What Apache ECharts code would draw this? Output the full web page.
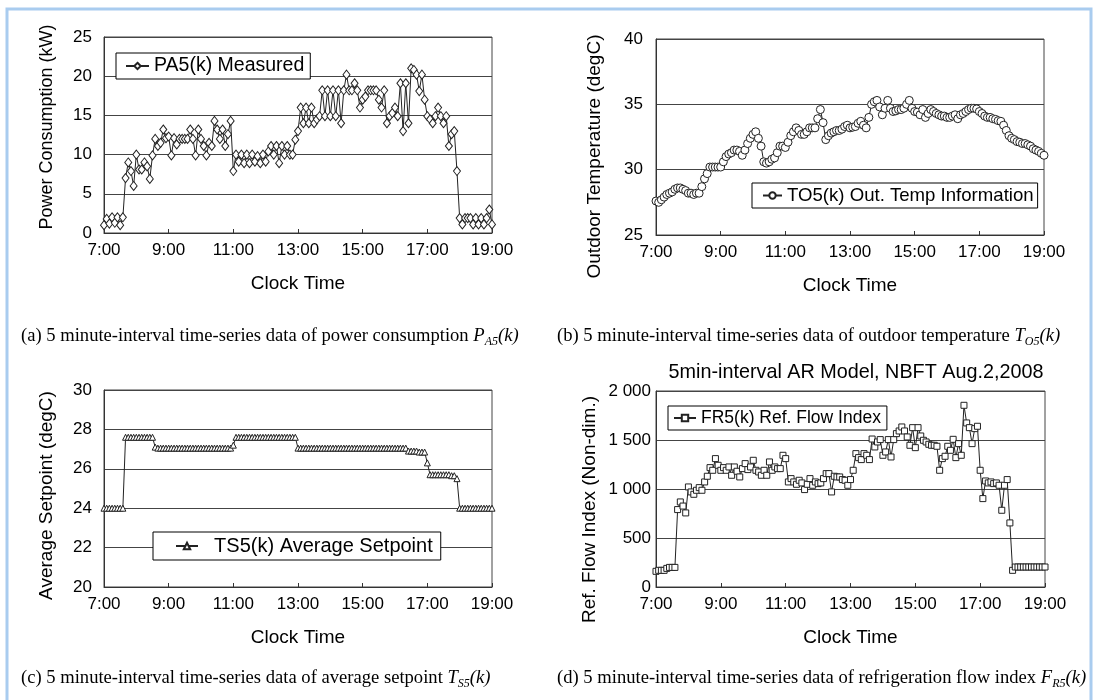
<!DOCTYPE html>
<html><head><meta charset="utf-8">
<script src="https://cdn.jsdelivr.net/npm/echarts@6/dist/echarts.min.js"></script>
<style>html,body{margin:0;padding:0;background:#fff}#c{width:1095px;height:700px}</style>
</head><body><div id="c"></div><script>
// 5-minute clock times 7:00 ... 19:00
const clockTimes = [];
for (let h = 7; h <= 19; h++) { for (let m = 0; m < 60; m += 5) { if (h === 19 && m > 0) break; clockTimes.push(h + ':' + String(m).padStart(2, '0')); } }
const xTickLabels = ['7:00','9:00','11:00','13:00','15:00','17:00','19:00'];

const powerA5 = [1.0,1.8,1.2,2.0,1.3,2.0,1.0,2.0,
 7.0,9.0,7.9,6.0,10.0,8.1,8.1,9.0,8.5,6.9,9.9,
 12.0,11.1,11.5,13.2,12.1,12.3,9.9,12.1,11.3,12.0,
 12.0,12.0,12.0,13.2,12.0,9.9,13.2,12.0,11.1,9.9,
 11.5,11.1,14.3,13.2,12.0,13.2,11.1,12.6,14.3,
 7.9,
 10.0,9.1,10.0,8.9,10.0,8.9,10.0,9.1,9.8,8.9,
 10.0,9.1,10.4,11.1,10.0,11.1,8.9,11.1,10.0,11.1,
 10.0,10.0,11.9,13.0,
 16.0,14.0,16.0,14.0,16.0,14.0,14.5,14.9,18.2,14.9,
 18.2,14.9,18.2,14.9,18.2,14.0,18.2,20.2,18.2,18.2,
 19.1,18.2,16.0,17.0,17.4,18.2,18.2,18.2,18.2,17.0,
 16.0,18.2,14.0,14.9,15.3,16.0,14.9,19.1,13.0,19.1,
 14.0,21.0,20.8,20.2,18.1,20.2,17.0,14.9,14.5,14.0,
 14.9,16.0,14.9,14.0,14.9,11.1,12.6,13.0,7.9,1.9,
 1.1,1.9,1.9,1.9,1.1,1.9,1.1,1.9,1.1,1.9,3.0,1.1];

const outdoorTO5 = [27.6,27.5,27.7,27.9,28.1,28.2,28.3,28.5,28.6,28.6,
 28.5,28.4,28.2,28.2,28.1,28.2,28.2,28.7,29.3,29.7,
 30.2,30.2,30.2,30.2,30.2,30.6,31.0,31.2,31.3,31.5,
 31.5,31.4,31.1,31.5,32.0,32.4,32.7,32.9,32.4,31.8,
 30.6,30.5,30.6,30.8,30.9,31.3,31.8,31.8,31.7,32.1,
 32.6,32.9,33.2,33.0,32.7,32.7,32.9,33.2,33.2,33.2,
 33.9,34.6,33.6,32.3,32.6,32.8,32.9,33.0,33.0,33.1,
 33.3,33.4,
 33.2,33.25,33.3,33.55,33.7,33.4,33.2,34.0,
 35.0,35.2,35.3,34.8,34.2,34.7,35.3,34.7,34.45,34.5,
 34.6,34.6,34.7,35.0,35.3,34.7,34.45,34.4,34.2,34.6,
 34.0,34.3,34.6,34.45,34.3,34.2,34.1,34.1,34.0,34.0,
 34.1,34.2,33.9,34.2,34.3,34.45,34.6,34.7,34.7,34.65,
 34.45,34.3,34.1,34.0,34.0,33.9,33.85,33.75,33.7,33.4,
 33.0,32.6,32.4,32.3,32.15,32.1,32.0,32.0,31.9,31.8,
 31.6,31.5,31.4,31.25,31.1];

const setpointTS5 = [24.0,24.0,24.0,24.0,24.0,24.0,24.0,24.0,
 27.6,27.6,27.6,27.6,27.6,27.6,27.6,27.6,27.6,27.6,27.6,
 27.1,
 27.05,27.05,27.05,27.05,27.05,27.05,27.05,27.05,27.05,27.05,
 27.05,27.05,27.05,27.05,27.05,27.05,27.05,27.05,27.05,27.05,
 27.05,27.05,27.05,27.05,27.05,27.05,27.05,27.05,
 27.2,
 27.6,27.6,27.6,27.6,27.6,27.6,27.6,27.6,27.6,27.6,
 27.6,27.6,27.6,27.6,27.6,27.6,27.6,27.6,27.6,27.6,
 27.6,27.6,27.6,
 27.05,27.05,27.05,27.05,27.05,27.05,27.05,27.05,27.05,27.05,
 27.05,27.05,27.05,27.05,27.05,27.05,27.05,27.05,27.05,27.05,
 27.05,27.05,27.05,27.05,27.05,27.05,27.05,27.05,27.05,27.05,
 27.05,27.05,27.05,27.05,27.05,27.05,27.05,27.05,27.05,27.05,
 27.05,
 26.9,26.9,26.9,26.9,26.85,26.85,26.85,
 26.3,
 25.7,25.7,25.7,25.7,25.7,25.7,25.7,25.7,25.65,25.65,
 25.5,
 24.0,24.0,24.0,24.0,24.0,24.0,24.0,24.0,24.0,24.0,24.0,24.0,24.0];

const flowFR5 = [160,170,170,170,190,200,200,200,
 790,868,826,756,1021,970,946,987,1014,987,
 1072,1130,1218,1191,1310,1242,1191,1218,1191,1225,
 1140,1225,1181,1123,1208,1259,1198,1225,1293,1191,
 1174,1140,1191,1140,1276,1191,1225,1208,1208,1344,
 1310,1072,1106,1072,1048,1089,1062,994,1048,1106,
 1038,1072,1055,1062,1106,1157,1157,970,1130,1123,
 1123,1096,1089,1038,1096,1191,
 1361,1320,1300,1361,1344,1300,1510,1429,1480,1504,
 1344,1378,1504,1327,1504,1565,1592,1633,1592,1531,
 1446,1626,1422,1626,1541,1497,1480,1456,1446,1446,
 1436,1191,1310,1334,1436,1395,1507,1320,1463,1344,
 1854,1674,1626,1463,1616,1640,1191,902,1082,1062,
 1072,1055,1062,1038,783,1038,1096,654,170,204,
 204,204,204,204,204,204,204,204,204,204,204];

const flowTickValues = [0, 500, 1000, 1500, 2000];
const flowTickLabels = ['0', '500', '1 000', '1 500', '2 000'];

const SANS = '"Liberation Sans", Arial, sans-serif';
const SERIF = '"Liberation Serif", "Times New Roman", serif';
const INK = '#222';

function xAxis(gi) {
  return {
    type: 'category', gridIndex: gi, data: clockTimes, boundaryGap: false,
    name: 'Clock Time', nameLocation: 'middle', nameGap: 41,
    nameTextStyle: { fontFamily: SANS, fontSize: 19, color: '#000' },
    axisLine: { lineStyle: { color: '#333', width: 1 } },
    axisTick: { show: true, inside: true, length: 4, interval: i => i % 24 === 0, lineStyle: { color: '#333' } },
    axisLabel: { interval: i => i % 24 === 0, margin: 9, fontFamily: SANS, fontSize: 17, color: '#000',
      formatter: v => xTickLabels.includes(v) ? v : '' },
    splitLine: { show: false }
  };
}
function yAxis(gi, min, max, interval, name, nameGap, nameSize, namePad, margin, fmt) {
  return {
    type: 'value', gridIndex: gi, min, max, interval,
    name, nameLocation: 'middle', nameGap,
    nameTextStyle: { fontFamily: SANS, fontSize: nameSize, color: '#000', padding: namePad },
    axisLine: { show: true, lineStyle: { color: '#333', width: 1 } },
    axisTick: { show: false },
    axisLabel: { margin, fontFamily: SANS, fontSize: 17, color: '#000', formatter: fmt },
    splitLine: { show: true, lineStyle: { color: '#444', width: 1 } }
  };
}
function legend(name, left, top, fontSize, padding, itemWidth, prefix) {
  return {
    data: [name], left, top, orient: 'horizontal',
    backgroundColor: '#fff', borderColor: '#000', borderWidth: 1, borderRadius: 0,
    padding, itemWidth, itemHeight: 8, itemGap: 0,
    formatter: n => prefix + n,
    textStyle: { fontFamily: SANS, fontSize, color: '#000' }
  };
}
function series(name, gi, data, symbol, size) {
  return {
    type: 'line', name, xAxisIndex: gi, yAxisIndex: gi, data,
    symbol, symbolSize: size, showAllSymbol: true, animation: false,
    lineStyle: { color: INK, width: 1 },
    itemStyle: { color: '#fff', borderColor: INK, borderWidth: 1 }
  };
}
function caption(x, y, lead, sym, sub) {
  return {
    type: 'text', x, y, silent: true,
    style: {
      text: lead + '{i|' + sym + '}{s|' + sub + '}{i|(k)}',
      fontFamily: SERIF, fontSize: 18.6, fill: '#000', verticalAlign: 'middle',
      rich: {
        i: { fontFamily: SERIF, fontSize: 18.6, fontStyle: 'italic', verticalAlign: 'middle', lineHeight: 24 },
        s: { fontFamily: SERIF, fontSize: 12, fontStyle: 'italic', verticalAlign: 'bottom', lineHeight: 12 }
      }
    }
  };
}

const chart = echarts.init(document.getElementById('c'), null, { renderer: 'canvas' });
chart.setOption({
  backgroundColor: '#fff',
  animation: false,
  grid: [
    { left: 104, top: 37, width: 388, height: 196, show: true, borderColor: '#444', borderWidth: 1, backgroundColor: 'transparent' },
    { left: 656, top: 39, width: 388, height: 196, show: true, borderColor: '#444', borderWidth: 1, backgroundColor: 'transparent' },
    { left: 104, top: 390, width: 388, height: 197, show: true, borderColor: '#444', borderWidth: 1, backgroundColor: 'transparent' },
    { left: 656, top: 391, width: 389, height: 196, show: true, borderColor: '#444', borderWidth: 1, backgroundColor: 'transparent' }
  ],
  xAxis: [xAxis(0), xAxis(1), xAxis(2), xAxis(3)],
  yAxis: [
    yAxis(0, 0, 25, 5, 'Power Consumption (kW)', 48, 18, [0, 0, 0, 16], 12),
    yAxis(1, 25, 40, 5, 'Outdoor Temperature (degC)', 52, 19, [0, 39, 0, 0], 13),
    yAxis(2, 20, 30, 2, 'Average Setpoint (degC)', 48, 19, [0, 14, 0, 0], 12),
    yAxis(3, 0, 2000, 500, 'Ref. Flow Index (Non-dim.)', 57, 19, [0, 41, 0, 0], 5,
      v => flowTickLabels[flowTickValues.indexOf(v)])
  ],
  legend: [
    legend('PA5(k) Measured', 116, 53, 19.5, [3, 6, 3, 9], 23, ''),
    legend('TO5(k) Out. Temp Information', 752, 183, 18.6, [3, 4, 3, 10], 19, ''),
    legend('TS5(k) Average Setpoint', 153, 532, 20, [4, 8, 4, 22], 22, '  '),
    legend('FR5(k) Ref. Flow Index', 668, 406, 17.5, [3, 6, 3, 5], 22, '')
  ],
  series: [
    series('PA5(k) Measured', 0, powerA5, 'diamond', [7, 9]),
    series('TO5(k) Out. Temp Information', 1, outdoorTO5, 'circle', 8),
    series('TS5(k) Average Setpoint', 2, setpointTS5, 'triangle', 6),
    series('FR5(k) Ref. Flow Index', 3, flowFR5, 'rect', 6)
  ],
  graphic: [
    { type: 'rect', silent: true, z: 100, shape: { x: 7, y: 9, width: 1084, height: 760 },
      style: { fill: 'none', stroke: '#a9ccef', lineWidth: 3 } },
    { type: 'text', x: 856, y: 373, silent: true,
      style: { text: '5min-interval AR Model, NBFT Aug.2,2008', fontFamily: SANS, fontSize: 19.8, fill: '#000', align: 'center', verticalAlign: 'middle' } },
    caption(21, 336, '(a) 5 minute-interval time-series data of power consumption ', 'P', 'A5'),
    caption(557, 336, '(b) 5 minute-interval time-series data of outdoor temperature ', 'T', 'O5'),
    caption(21, 678, '(c) 5 minute-interval time-series data of average setpoint ', 'T', 'S5'),
    caption(557, 678, '(d) 5 minute-interval time-series data of refrigeration flow index ', 'F', 'R5')
  ]
});
</script></body></html>
